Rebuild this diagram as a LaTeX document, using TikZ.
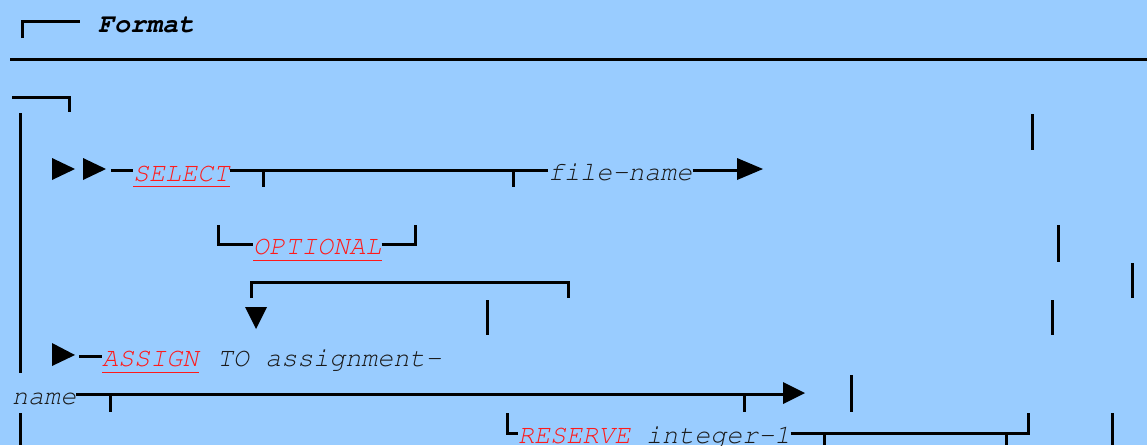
\documentclass[tikz,border=0pt]{standalone}
\usepackage[T1]{fontenc}
\usepackage{xcolor}
\definecolor{mybg}{HTML}{99CCFF}
\definecolor{myred}{HTML}{FF1A1A}
\definecolor{myink}{HTML}{1A1A1A}
\newcommand{\railfont}{\fontencoding{T1}\fontfamily{pcr}\fontshape{sl}\fontsize{26.7}{30}\selectfont}

\tikzset{
    word/.style={anchor=base west, inner sep=0, text=myink, font=\railfont},
    kword/.style={word, text=myred},
    rail/.style={line width=3pt},
    uline/.style={draw=myred, line width=1.6pt},
    tip/.style={fill=black}
}

\begin{document}
\begin{tikzpicture}[x=1pt, y=-1pt]
    \fill[mybg] (0, 0) rectangle (1147, 445);
    \useasboundingbox (0, 0) rectangle (1147, 445);
    % rail levels
    \coordinate (r1) at (0, 170);
    \coordinate (r2) at (0, 244);
    \coordinate (r3) at (0, 356);
    \coordinate (r4) at (0, 394);
    \coordinate (r5) at (0, 433);
    % texts
    \node[word, font=\railfont\bfseries, text=black] (fmt) at (98, 32) {Format};
    \node[kword] (sel) at (133, 181) {SELECT};
    \node[word] (fname) at (548, 180) {file-name};
    \node[kword] (opt) at (253, 254) {OPTIONAL};
    \node[kword] (asg) at (102, 366) {ASSIGN};
    \node[word] (ato) at (217, 366) {TO assignment-};
    \node[word] (aname) at (12, 404) {name};
    \node[kword] (res) at (518, 443) {RESERVE};
    \node[word] (int) at (646, 443) {integer-1};
    % underlines
    \draw[uline] ([yshift=-5pt]sel.south west) -- ([yshift=-5pt]sel.south east);
    \draw[uline] ([yshift=-6pt]opt.south west) -- ([yshift=-6pt]opt.south east);
    \draw[uline] ([yshift=-6pt]asg.south west) -- ([yshift=-6pt]asg.south east);
    % heading and rule
    \draw[rail] (22.7, 38) -- (22.7, 21) -- (80, 21);
    \draw[rail] (10, 59.5) -- (1147, 59.5);
    \draw[rail] (12, 97) -- (69, 97) -- (69, 112);
    \draw[rail] (20, 113) -- (20, 373);
    \draw[rail] (20, 413) -- (20, 445);
    % SELECT line
    \fill[tip] (52, 158) -- (75, 169) -- (52, 180) -- cycle;
    \fill[tip] (83, 158) -- (106, 169) -- (83, 180) -- cycle;
    \coordinate (s0) at (111, 170);
    \draw[rail] (s0) -- (sel.west |- r1);
    \draw[rail] (sel.east |- r1) -- (fname.west |- r1);
    \draw[rail] (263, 170) -- (263, 187);
    \draw[rail] (513, 170) -- (513, 187);
    \coordinate (s1) at (737, 170);
    \draw[rail] (fname.east |- r1) -- (s1);
    \fill[tip] (737, 158) -- (763, 169) -- (737, 180) -- cycle;
    % OPTIONAL branch
    \coordinate (o0) at (218, 244);
    \coordinate (o1) at (415, 244);
    \draw[rail] (218, 225) -- (o0) -- (opt.west |- r2);
    \draw[rail] (opt.east |- r2) -- (o1) -- (415, 225);
    % repeat bracket
    \draw[rail] (251, 298) -- (251, 282) -- (568, 282) -- (568, 298);
    \fill[tip] (245, 307) -- (267, 307) -- (256, 329) -- cycle;
    % loose bars
    \draw[rail] (1032, 114) -- (1032, 150);
    \draw[rail] (1058, 225) -- (1058, 262);
    \draw[rail] (1132, 263) -- (1132, 298);
    \draw[rail] (1052, 300) -- (1052, 335);
    \draw[rail] (487, 300) -- (487, 335);
    \draw[rail] (851, 375) -- (851, 412);
    \draw[rail] (1112, 413) -- (1112, 445);
    % ASSIGN line
    \fill[tip] (52, 343) -- (75, 355) -- (52, 366) -- cycle;
    \coordinate (a0) at (79, 356);
    \draw[rail] (a0) -- (asg.west |- r3);
    \coordinate (a1) at (783, 394);
    \draw[rail] (aname.east |- r4) -- (a1);
    \draw[rail] (110, 394) -- (110, 412);
    \draw[rail] (744, 394) -- (744, 412);
    \fill[tip] (783, 382) -- (805, 393) -- (783, 404) -- cycle;
    % RESERVE branch
    \coordinate (v0) at (507, 433);
    \coordinate (v1) at (1028, 433);
    \draw[rail] (507, 413) -- (v0) -- (res.west |- r5);
    \draw[rail] (int.east |- r5) -- (v1) -- (1028, 413);
    \draw[rail] (824, 433) -- (824, 445);
    \draw[rail] (1006, 433) -- (1006, 445);
\end{tikzpicture}
\end{document}
